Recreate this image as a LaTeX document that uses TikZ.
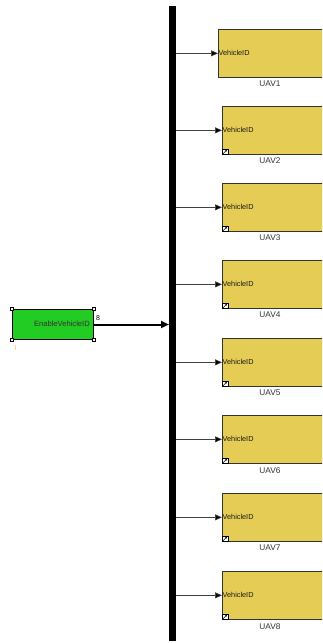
\documentclass[tikz,border=0pt]{standalone}
\usepackage{fontspec}
\setmainfont{Liberation Sans}
\usetikzlibrary{arrows.meta}
\definecolor{uavyellow}{RGB}{229,204,84}
\definecolor{enablegreen}{RGB}{34,204,34}
\begin{document}
\begin{tikzpicture}[x=1pt,y=-1pt,
  uavbox/.style={draw=black!80,line width=0.7pt,fill=uavyellow,minimum width=110pt,minimum height=48pt,anchor=north west,inner sep=0pt},
  portlbl/.style={font=\fontsize{7.3}{8}\selectfont,text=black!90,anchor=west,inner sep=0.5pt},
  caplbl/.style={font=\fontsize{8.3}{9}\selectfont,text=black!80,inner sep=0pt},
  sig/.style={draw=black!75,line width=0.6pt,-{Triangle[length=7pt,width=6pt,fill=black]}},
  handle/.style={draw=black,fill=white,line width=0.6pt,minimum size=3.5pt,inner sep=0pt},
  linkicon/.style={draw=black,fill=white,line width=0.5pt,minimum size=5.5pt,inner sep=0pt,anchor=south west}]
\useasboundingbox (0,0) rectangle (322,643);
\clip (0,0) rectangle (322,643);
% bus bar
\node[fill=black,minimum width=7pt,minimum height=635pt,inner sep=0pt,anchor=north west] (bar) at (169,6) {};
% enable block
\node[draw=black,line width=1pt,fill=enablegreen,minimum width=81pt,minimum height=30pt,anchor=north west,inner sep=0pt] (en) at (12,309) {};
\node[font=\fontsize{7.6}{8}\selectfont,text=black!80,anchor=east,inner sep=0pt] (entxt) at (90,324) {EnableVehicleID};
\foreach \c in {north west,north east,south west,south east}{\node[handle] at (en.\c) {};}
\node[font=\fontsize{7}{8}\selectfont,anchor=west,inner sep=0pt] (eight) at (96,318) {8};
\draw[black,line width=2pt,-{Triangle[length=8pt,width=7pt]}] (en.east) -- (bar.west |- en.east);
\draw[orange!35,line width=0.8pt] (15,345) -- (15,350);
% UAV blocks
\foreach \i/\t/\lx in {1/29/218,2/106/222,3/183/222,4/260/222,5/338/222,6/415/222,7/493/222,8/571/222}{
  \node[uavbox] (uav\i) at (\lx,\t) {};
  \node[portlbl] (port\i) at (uav\i.west) {VehicleID};
  \node[caplbl,anchor=north] (lbl\i) at (270,\t+52) {UAV\i};
  \draw[sig] (bar.east |- uav\i.west) -- (uav\i.west);
}
\foreach \i in {2,...,8}{
  \node[linkicon] (ic\i) at (uav\i.south west) {};
  \draw[line width=0.5pt,-{Stealth[length=2pt,width=2pt]}] ([shift={(1,-1)}]ic\i.south west) -- ([shift={(-1,1)}]ic\i.north east);
}
\end{tikzpicture}
\end{document}
